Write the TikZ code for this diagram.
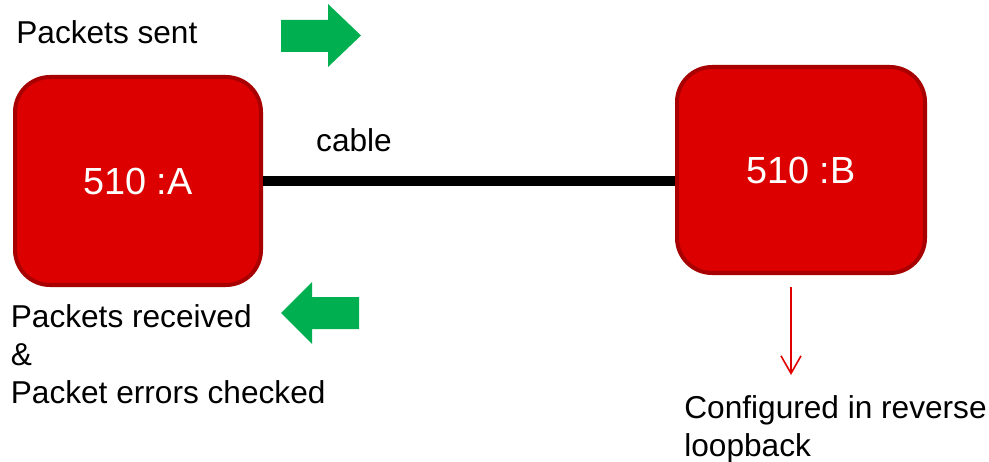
\documentclass[tikz,border=0pt]{standalone}
\usepackage{fontspec}
\setmainfont{Liberation Sans}
\usetikzlibrary{arrows.meta}
\definecolor{boxred}{HTML}{DD0000}
\definecolor{boxedge}{HTML}{A80000}
\definecolor{flowgreen}{HTML}{00B050}
\definecolor{noteRed}{HTML}{E00000}
\begin{document}
\begin{tikzpicture}[x=0.02cm, y=-0.02cm,
    device/.style={draw=boxedge, line width=2.3pt, fill=boxred, rounded corners=0.7cm,
        text=white, inner sep=0pt, font=\fontsize{21.5}{26}\selectfont},
    note/.style={inner sep=0pt, anchor=base west, align=left,
        font=\fontsize{18}{21.4}\selectfont}]
    \useasboundingbox (0,0) rectangle (989,462);

    % Draw the two devices
    \node[device, minimum width=4.92cm, minimum height=4.16cm] (devA) at (138,181) {510 :A};
    \node[device, minimum width=4.96cm, minimum height=4.12cm] (devB) at (801,170) {510 :B};

    % Draw the cable between them
    \draw[line width=5.5pt] (devA.east) -- (devA.east -| devB.west);
    \node[note, anchor=base] (cableText) at (354,152) {cable};

    % Green arrows: sent (right) and received (left)
    \fill[flowgreen] (281,20) -- (328,20) -- (328,4) -- (361,35.5) -- (328,67) -- (328,52) -- (281,52) -- cycle;
    \fill[flowgreen] (281,313) -- (312,282) -- (312,297) -- (359,297) -- (359,329) -- (312,329) -- (312,344) -- cycle;

    % Texts (base = last line)
    \node[note] (sent) at (16,44) {Packets sent};
    \node[note] (recv) at (10.5,403) {Packets received\\\&\\Packet errors checked};
    \node[note] (loop) at (684,456) {Configured in reverse\\loopback};

    % Red arrow down to the loopback note
    \coordinate (loopTop) at (791,287);
    \coordinate (loopEnd) at (791,375);
    \draw[noteRed, line width=0.9pt, -{Straight Barb[length=10pt, width=11.4pt]}] (loopTop) -- (loopEnd);
\end{tikzpicture}
\end{document}
